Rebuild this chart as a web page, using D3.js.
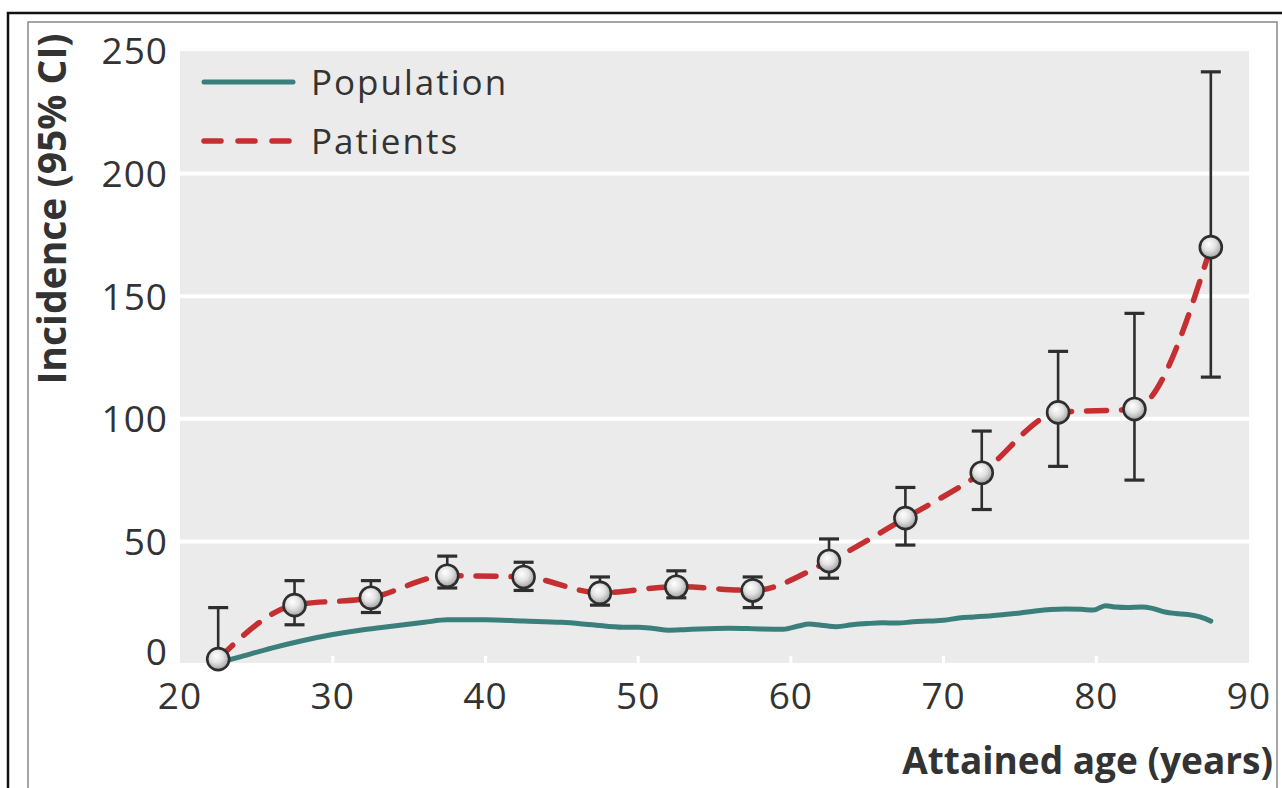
<!doctype html>
<html>
<head>
<meta charset="utf-8"/>
<style>
    body { margin: 0; background: #fff; }
    svg { display: block; }
    text { font-family: "Open Sans", "DejaVu Sans", sans-serif; fill: #333; }
</style>
<script src="https://d3js.org/d3.v7.min.js"></script>
</head>
<body>
<svg id="chart" width="1282" height="788"></svg>
<script>
    // age-group midpoints for the patients series
    var patientAge = [22.5, 27.5, 32.5, 37.5, 42.5, 47.5, 52.5, 57.5, 62.5, 67.5, 72.5, 77.5, 82.5, 87.5];
    var patientRate = [2, 24, 27, 36, 35.5, 29, 31.5, 30, 42, 59.5, 78, 102.6, 104, 170];
    var patientLow = [0, 16, 21, 31, 30, 24, 27, 23, 35, 48.5, 63, 80.6, 75, 117];
    var patientHigh = [23, 34, 34, 44, 41.5, 35.5, 38, 35.5, 51, 72, 95, 127.5, 143, 241.5];

    // general population curve
    var popAge = [22.5, 24, 26, 28, 30, 32, 34, 36, 37.5, 40, 42.5, 45, 47, 49, 50, 51, 52, 53, 54, 56, 58, 59.5,
        60.5, 61.2, 62, 63, 64, 65, 66, 67, 68, 69, 70, 71, 72, 73, 74, 75, 76, 77, 78, 79, 79.8, 80.6, 81.3, 82,
        83, 83.6, 84.5, 85.2, 86, 86.8, 87.5];
    var popRate = [0.5, 3, 6.5, 9.5, 12, 14, 15.5, 17, 18, 18, 17.5, 17, 16, 15, 15, 14.5, 13.8, 14, 14.3, 14.6, 14.3, 14.2,
        15.5, 16.3, 15.8, 15.2, 16, 16.5, 16.8, 16.7, 17.2, 17.5, 17.8, 18.8, 19.2, 19.6, 20.2, 20.8, 21.6, 22.2, 22.4, 22.3,
        22, 23.8, 23.2, 23, 23.2, 22.8, 21.2, 20.6, 20.2, 19.2, 17.5];

    var xTicks = [20, 30, 40, 50, 60, 70, 80, 90];
    var yTicks = [0, 50, 100, 150, 200, 250];

    var teal = "#3b7f7c", red = "#c62f31", ink = "#2e2e2e";

    var svg = d3.select("#chart");

    // frame around the figure
    svg.append("rect").attr("x", 8).attr("y", 13).attr("width", 1290).attr("height", 800)
        .attr("fill", "none").attr("stroke", "#111").attr("stroke-width", 2.5);
    svg.append("rect").attr("x", 28).attr("y", 22).attr("width", 1249).attr("height", 800)
        .attr("fill", "none").attr("stroke", "#888").attr("stroke-width", 1.5);

    var x = d3.scaleLinear().domain([20, 90]).range([180, 1249]);
    var y = d3.scaleLinear().domain([0, 250]).range([664, 51]);

    var defs = svg.append("defs");
    var grad = defs.append("radialGradient").attr("id", "ball")
        .attr("cx", "45%").attr("cy", "40%").attr("r", "60%").attr("fx", "40%").attr("fy", "35%");
    grad.append("stop").attr("offset", "0%").attr("stop-color", "#ffffff");
    grad.append("stop").attr("offset", "50%").attr("stop-color", "#e2e2e2");
    grad.append("stop").attr("offset", "100%").attr("stop-color", "#a0a0a0");

    // panel
    svg.append("rect")
        .attr("x", x(20)).attr("y", y(250))
        .attr("width", x(90) - x(20)).attr("height", y(0) - y(250) - 1)
        .attr("fill", "#ebebeb");

    svg.append("g").selectAll("line")
        .data(yTicks.filter(function(d) { return d > 0 && d < 250; }))
        .join("line")
        .attr("x1", x(20)).attr("x2", x(90))
        .attr("y1", function(d) { return y(d); }).attr("y2", function(d) { return y(d); })
        .attr("stroke", "#fff").attr("stroke-width", 4);

    svg.append("g").selectAll("line")
        .data(xTicks.filter(function(d) { return d > 20 && d < 90; }))
        .join("line")
        .attr("x1", function(d) { return x(d); }).attr("x2", function(d) { return x(d); })
        .attr("y1", y(0) - 8).attr("y2", y(0))
        .attr("stroke", "#fff").attr("stroke-width", 3);

    // tick labels
    svg.append("g").selectAll("text")
        .data(yTicks)
        .join("text")
        .attr("x", 168)
        .attr("y", function(d) { return d === 0 ? y(d) - 12 : y(d); })
        .attr("dy", "0.36em")
        .attr("text-anchor", "end")
        .style("font-size", "37px")
        .style("letter-spacing", "1px")
        .text(function(d) { return d; });

    svg.append("g").selectAll("text")
        .data(xTicks)
        .join("text")
        .attr("x", function(d) { return x(d); })
        .attr("y", 709)
        .attr("text-anchor", "middle")
        .style("font-size", "37px")
        .style("letter-spacing", "1px")
        .text(function(d) { return d; });

    // axis titles
    svg.append("text")
        .attr("transform", "translate(66,209) rotate(-90)")
        .attr("text-anchor", "middle")
        .style("font-size", "39px").style("font-weight", "bold")
        .text("Incidence (95% CI)");

    svg.append("text")
        .attr("x", 1273).attr("y", 774)
        .attr("text-anchor", "end")
        .style("font-size", "37px").style("font-weight", "bold")
        .text("Attained age (years)");

    // population line
    var popLine = d3.line()
        .x(function(d, i) { return x(popAge[i]); })
        .y(function(d) { return y(d); })
        .curve(d3.curveMonotoneX);

    svg.append("path")
        .datum(popRate)
        .attr("d", popLine)
        .attr("fill", "none").attr("stroke", teal).attr("stroke-width", 5)
        .attr("stroke-linejoin", "round").attr("stroke-linecap", "round");

    // patients dashed line
    var patLine = d3.line()
        .x(function(d, i) { return x(patientAge[i]); })
        .y(function(d) { return y(d); })
        .curve(d3.curveMonotoneX);

    svg.append("path")
        .datum(patientRate)
        .attr("d", patLine)
        .attr("fill", "none").attr("stroke", red).attr("stroke-width", 5.5)
        .attr("stroke-dasharray", "20,15").attr("stroke-linecap", "round");

    // error bars
    var bars = svg.append("g").attr("stroke", ink).attr("stroke-width", 2.6);
    patientAge.forEach(function(a, i) {
        var cx = x(a);
        bars.append("line").attr("x1", cx).attr("x2", cx).attr("y1", y(patientLow[i])).attr("y2", y(patientHigh[i]));
        bars.append("line").attr("x1", cx - 10).attr("x2", cx + 10).attr("y1", y(patientHigh[i])).attr("y2", y(patientHigh[i])).attr("stroke-width", 3.2);
        if (patientLow[i] > 0)
            bars.append("line").attr("x1", cx - 10).attr("x2", cx + 10).attr("y1", y(patientLow[i])).attr("y2", y(patientLow[i])).attr("stroke-width", 3.2);
    });

    svg.append("g").selectAll("circle")
        .data(patientRate)
        .join("circle")
        .attr("cx", function(d, i) { return x(patientAge[i]); })
        .attr("cy", function(d) { return y(d); })
        .attr("r", 11)
        .attr("fill", "url(#ball)")
        .attr("stroke", ink).attr("stroke-width", 2.6);

    // legend
    var legend = svg.append("g");
    legend.append("line").attr("x1", 204).attr("x2", 293).attr("y1", 82).attr("y2", 82)
        .attr("stroke", teal).attr("stroke-width", 5).attr("stroke-linecap", "round");
    legend.append("line").attr("x1", 204).attr("x2", 293).attr("y1", 141).attr("y2", 141)
        .attr("stroke", red).attr("stroke-width", 5.5).attr("stroke-linecap", "round")
        .attr("stroke-dasharray", "17,17");
    legend.append("text").attr("x", 311).attr("y", 95).style("font-size", "35px").style("letter-spacing", "2px").text("Population");
    legend.append("text").attr("x", 311).attr("y", 154).style("font-size", "35px").style("letter-spacing", "2px").text("Patients");
</script>
</body>
</html>
